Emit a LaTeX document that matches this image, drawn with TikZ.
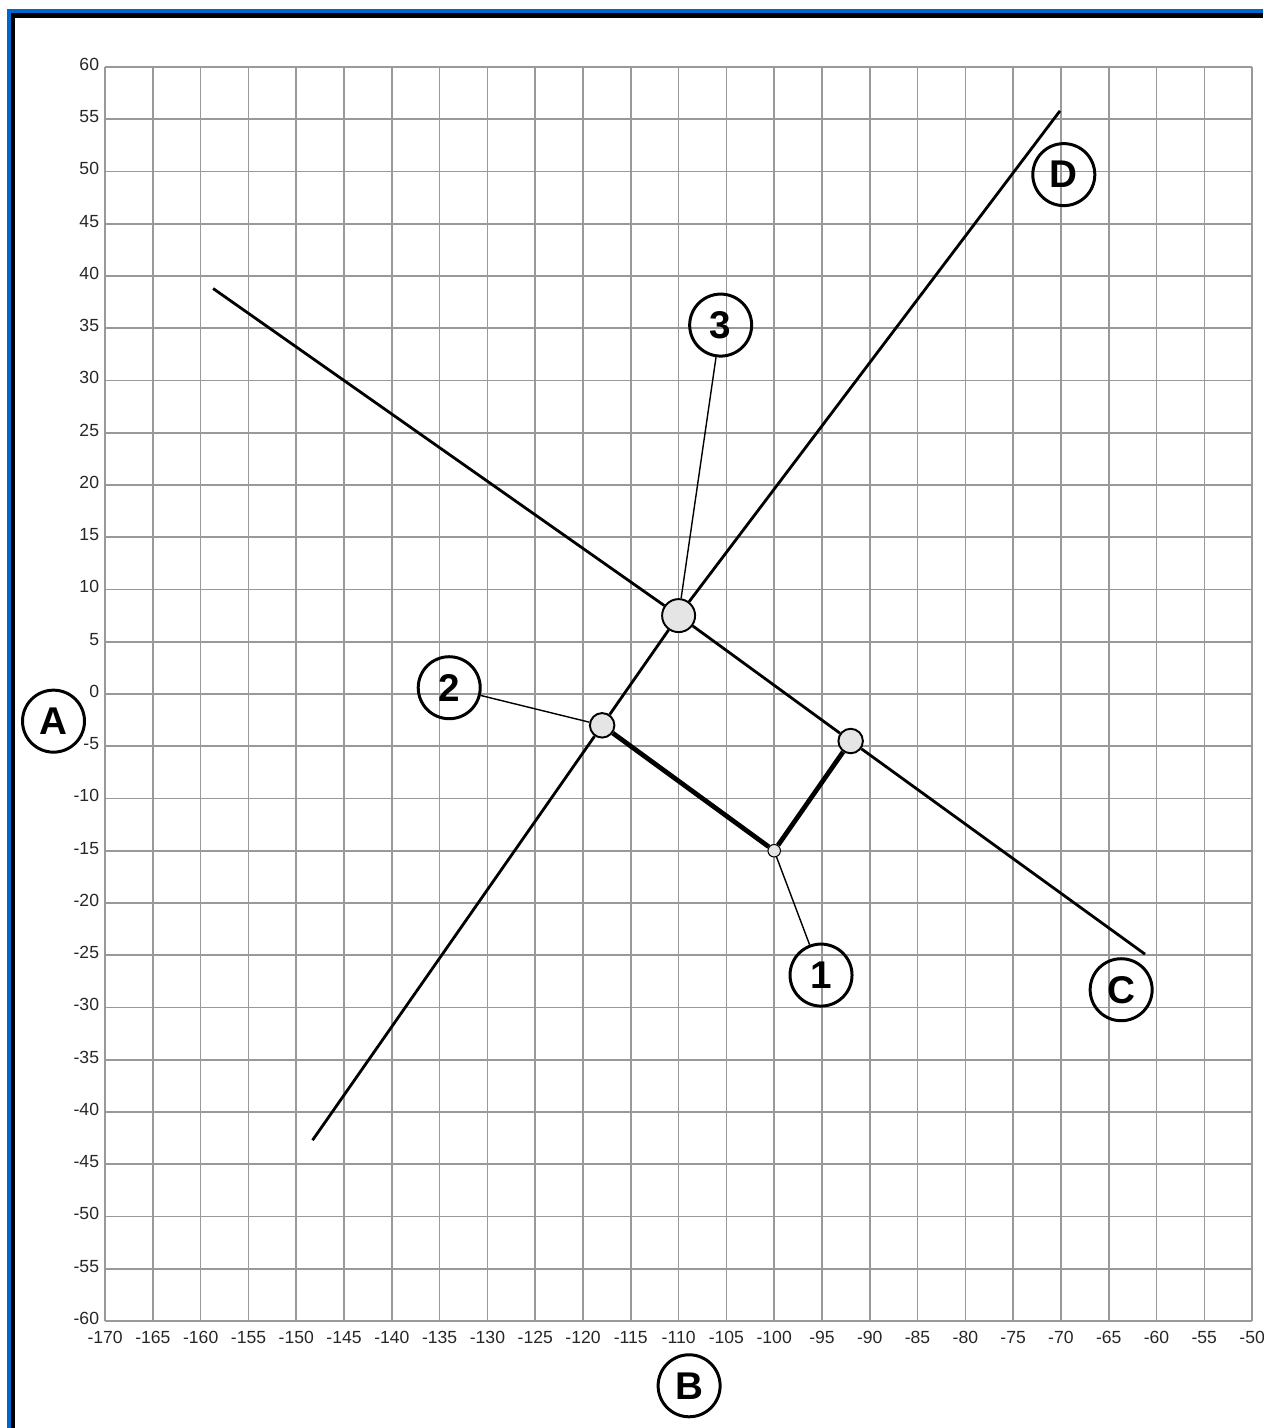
\documentclass[tikz,border=0pt]{standalone}
\usepackage{fontspec}
\setmainfont{Liberation Sans}
\usetikzlibrary{positioning}
\definecolor{frameblue}{RGB}{0,102,204}

\begin{document}
\begin{tikzpicture}[x=0.19116cm, y=0.209cm,
  every node/.style={font=\fontsize{10}{12}\selectfont, text=black!85},
  gridline/.style={draw=gray!80, line width=0.9pt},
  ticklab/.style={inner sep=0pt},
  ray/.style={line width=1.6pt},
  side/.style={line width=2.7pt},
  leader/.style={line width=0.8pt},
  pt/.style={circle, draw, fill=gray!20, line width=1.1pt, inner sep=0pt, minimum size=0.49cm},
  bigpt/.style={pt, minimum size=0.66cm},
  smallpt/.style={pt, line width=0.6pt, minimum size=0.25cm},
  callout/.style={circle, draw, line width=1.7pt, inner sep=0pt, minimum size=1.24cm,
    font=\fontsize{22}{24}\selectfont\bfseries, text=black}]

\useasboundingbox (-181.0,-70.24) rectangle (-48.85,66.41);

% window frame
\draw[frameblue, line width=0.08cm] (-180.08,-70.24) |- (-48.85,65.36);
\draw[line width=0.09cm] (-179.66,-70.24) |- (-48.85,64.93);

% grid and scale
\draw[gridline] (-170,-60) grid[xstep=5, ystep=5] (-50,60);
\foreach \x in {-170,-165,...,-50}
  \node[ticklab, anchor=base] at (\x,-62.15) {\x};
\foreach \y in {-60,-55,...,60}
  \node[ticklab, anchor=base east] at (-170.6,\y-0.33) {\y};

% points
\node[bigpt] (p3) at (-110,7.5) {};
\node[pt] (p2) at (-118,-3) {};
\node[pt] (p4) at (-92,-4.5) {};
\node[smallpt] (p1) at (-100,-15) {};

\coordinate (Cstart) at (-158.7,38.8);
\coordinate (Cend) at (-61.2,-24.9);
\coordinate (Dstart) at (-148.3,-42.7);
\coordinate (Dend) at (-70.1,55.8);

\draw[ray] (Cstart) -- (p3) -- (p4) -- (Cend);
\draw[ray] (Dstart) -- (p2) -- (p3) -- (Dend);
\draw[side] (p2) -- (p1) -- (p4);

% callouts
\node[callout] (three) at (-105.6,35.3) {3};
\node[callout] (two) at (-134.0,0.6) {2};
\node[callout] (one) at (-95.1,-26.9) {1};
\node[callout] (labD) at (-69.7,49.7) {D};
\node[callout] (labC) at (-63.7,-28.3) {C};
\node[callout] (labA) at (-175.4,-2.6) {A};
\node[callout] (labB) at (-108.9,-66.2) {B};

\draw[leader] (three) -- (p3);
\draw[leader] (two) -- (p2);
\draw[leader] (one) -- (p1);
\end{tikzpicture}
\end{document}
